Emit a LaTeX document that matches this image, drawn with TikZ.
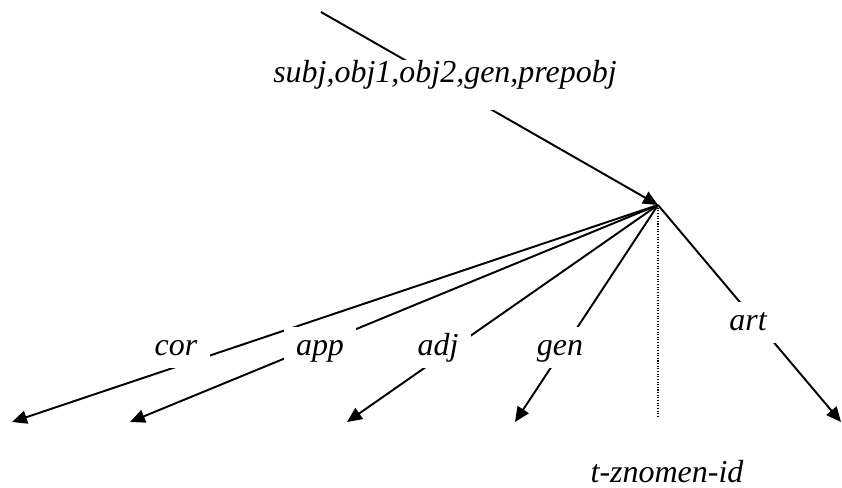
\documentclass[tikz,border=0pt]{standalone}
\usepackage{fontspec}
\setmainfont{Liberation Serif}
\usepackage{tikz}
\usetikzlibrary{arrows.meta}
\tikzset{
  edge/.style={line width=1.1pt, color=black},
  tipedge/.style={edge, -{Triangle[length=8.5pt,width=7.5pt]}},
  idline/.style={line width=0.7pt, dash pattern=on 0.6pt off 0.9pt},
  lbl/.style={fill=white, anchor=base, inner xsep=7pt, inner ysep=0pt,
    text height=16pt, text depth=7.5pt,
    font=\fontsize{18.2pt}{22pt}\selectfont\itshape}
}
\begin{document}
\begin{tikzpicture}[x=0.02cm, y=-0.02cm]
  \useasboundingbox (0,0) rectangle (842,487);
  \coordinate (hub) at (658,205);
  \coordinate (src) at (321,12);
  \coordinate (idend) at (658,418);
  \foreach \n/\x in {cor/12, app/130, adj/347, gen/515, art/841}
    \coordinate (\n-tip) at (\x,422);

  % incoming edge and dependents
  \draw[tipedge] (src) -- (hub);
  \foreach \n in {cor,app,adj,gen,art} \draw[tipedge] (hub) -- (\n-tip);
  \draw[idline] (hub) -- (idend);

  % edge labels
  \node[lbl, text height=12.5pt, text depth=16pt] (in-lbl) at (445,82) {subj,obj1,obj2,gen,prepobj};
  \node[lbl] (cor-lbl) at (176,355) {cor};
  \node[lbl] (app-lbl) at (320,355) {app};
  \node[lbl] (adj-lbl) at (438,355) {adj};
  \node[lbl] (gen-lbl) at (560,355) {gen};
  \node[lbl] (art-lbl) at (748,330) {art};
  \node[lbl] (id-lbl) at (667,482) {t-znomen-id};
\end{tikzpicture}
\end{document}
